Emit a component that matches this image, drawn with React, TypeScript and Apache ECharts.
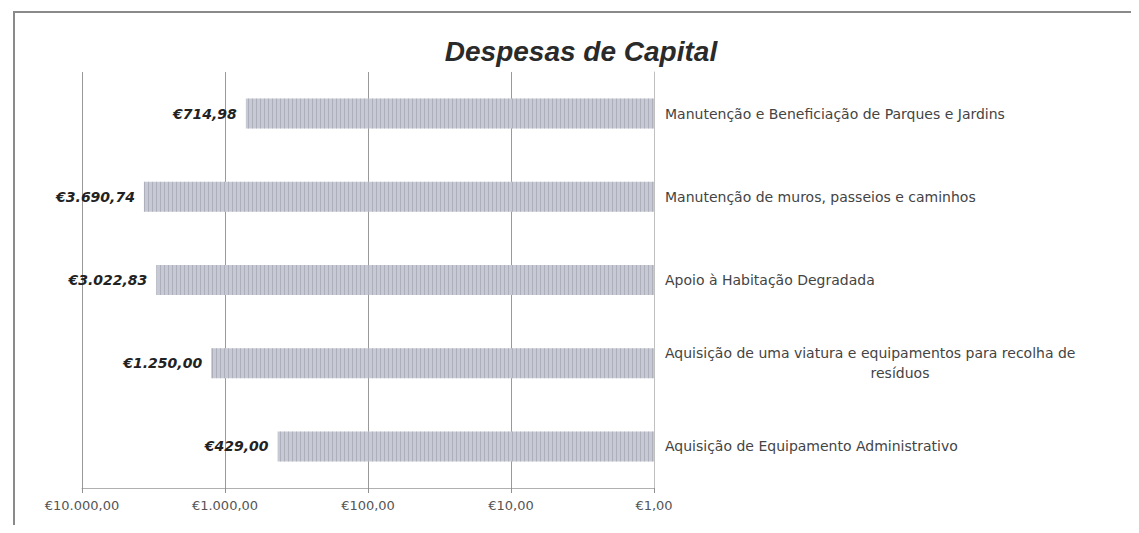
import React, { useEffect, useRef } from "react";
import * as echarts from "echarts";

const categories = [
  "Manutenção e Beneficiação de Parques e Jardins",
  "Manutenção de muros, passeios e caminhos",
  "Apoio à Habitação Degradada",
  "Aquisição de uma viatura e equipamentos para recolha de resíduos",
  "Aquisição de Equipamento Administrativo",
];
const values = [714.98, 3690.74, 3022.83, 1250.0, 429.0];
const axisMin = 1;
const axisMax = 10000;
const title = "Despesas de Capital";

function fmtEuro(v: number): string {
  const fixed = v.toFixed(2);
  const [intPart, dec] = fixed.split(".");
  const withDots = intPart.replace(/\B(?=(\d{3})+(?!\d))/g, ".");
  return "€" + withDots + "," + dec;
}

export default function App() {
  const ref = useRef<HTMLDivElement>(null);
  useEffect(() => {
    if (!ref.current) return;
    const chart = echarts.init(ref.current, undefined, { renderer: "svg" });
    chart.setOption({
      animation: false,
      backgroundColor: "#ffffff",
      title: {
        text: title,
        left: 576,
        textAlign: "center",
        top: 32,
        textStyle: {
          fontFamily: "Liberation Sans",
          fontSize: 28,
          fontWeight: "bold",
          fontStyle: "italic",
          color: "#2a2a2a",
        },
      },
      graphic: [
        {
          type: "rect",
          shape: { x: 14, y: 12, width: 1121, height: 540 },
          style: { fill: "none", stroke: "#8a8a8a", lineWidth: 2 },
          silent: true,
        },
      ],
      grid: { left: 82, right: 485, top: 72, bottom: 45, containLabel: false },
      xAxis: {
        type: "log",
        logBase: 10,
        min: axisMin,
        max: axisMax,
        inverse: true,
        axisLine: { show: true, lineStyle: { color: "#b0b0b0", width: 1 } },
        axisTick: { show: true, length: 5, lineStyle: { color: "#909090" } },
        splitLine: { show: true, lineStyle: { color: "#999999", width: 1 } },
        axisLabel: {
          formatter: (v: number) => fmtEuro(v),
          fontFamily: "DejaVu Sans",
          fontSize: 13,
          color: "#555555",
          margin: 11,
        },
      },
      yAxis: {
        type: "category",
        data: categories,
        inverse: true,
        position: "right",
        axisLine: { show: true, lineStyle: { color: "#c0c0c0" } },
        axisTick: { show: false },
        axisLabel: {
          margin: 11,
          align: "left",
          fontFamily: "DejaVu Sans",
          fontSize: 14,
          color: "#444444",
          formatter: (v: string) => {
            if (v.indexOf("recolha de resíduos") >= 0) {
              return "{a|Aquisição de uma viatura e equipamentos para recolha de}\n{c|resíduos}";
            }
            return "{a|" + v + "}";
          },
          rich: {
            a: { fontFamily: "DejaVu Sans", fontSize: 14, color: "#444444", lineHeight: 20 },
            c: {
              fontFamily: "DejaVu Sans",
              fontSize: 14,
              color: "#444444",
              lineHeight: 20,
              width: 470,
              align: "center",
            },
          },
        },
      },
      series: [
        {
          type: "bar",
          data: values,
          barWidth: 30,
          itemStyle: {
            color: "#c7cad4",
            decal: {
              symbol: "rect",
              symbolSize: 1,
              dashArrayX: [1, 3],
              dashArrayY: [4, 0],
              rotation: 0,
              color: "rgba(150,152,165,0.55)",
            },
          },
          label: {
            show: true,
            position: "left",
            distance: 9,
            formatter: (p: any) => fmtEuro(p.value),
            fontFamily: "DejaVu Sans",
            fontSize: 14,
            fontWeight: "bold",
            fontStyle: "italic",
            color: "#222222",
          },
        },
      ],
    });
    return () => chart.dispose();
  }, []);
  return <div ref={ref} style={{ width: 1139, height: 533, margin: -8 }} />;
}
